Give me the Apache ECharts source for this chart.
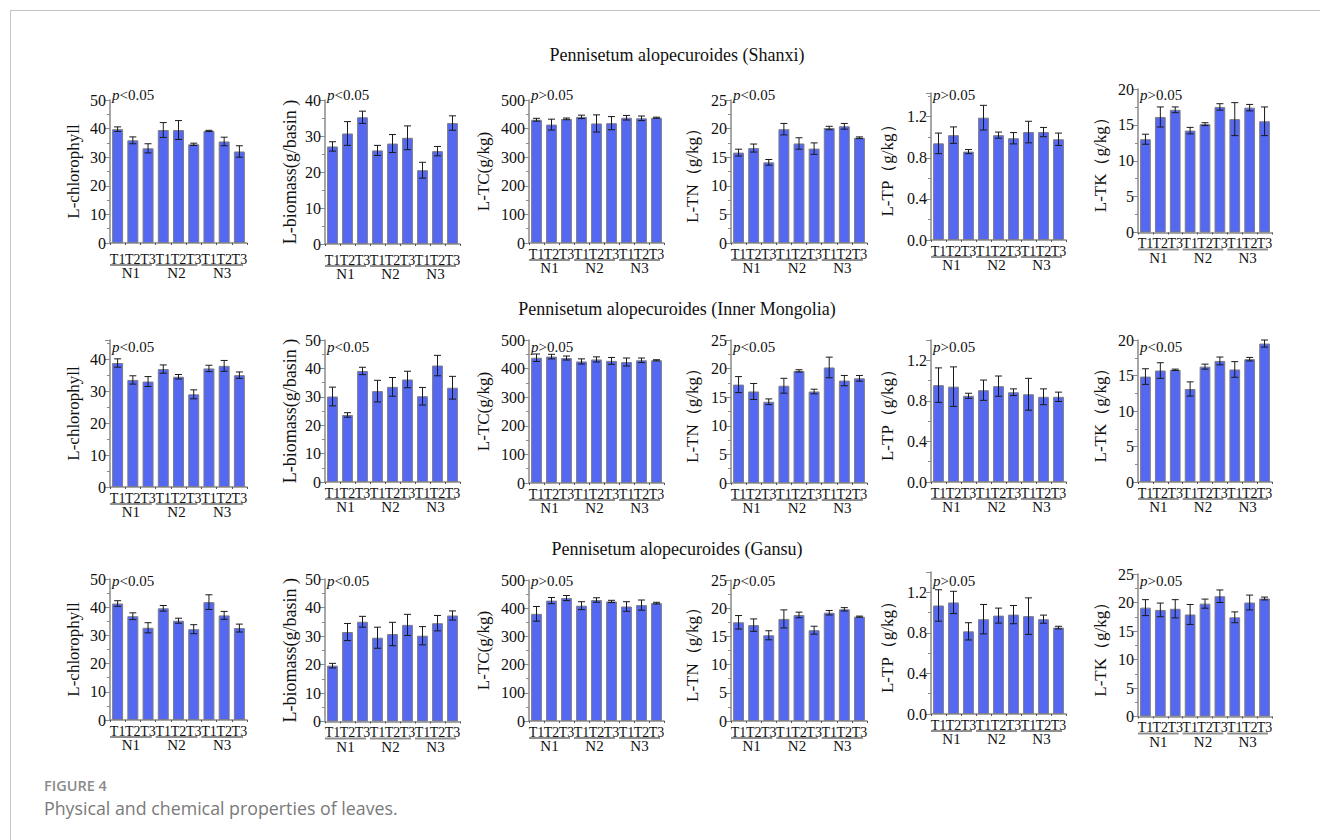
<!DOCTYPE html>
<html>
<head>
<meta charset="utf-8">
<script src="https://cdn.jsdelivr.net/npm/echarts@6/dist/echarts.min.js"></script>
<style>
  html, body { margin: 0; padding: 0; background: #ffffff; }
  #chart { width: 1320px; height: 840px; }
</style>
</head>
<body>
<div id="chart"></div>
<script>
// ---- categories ----
const treatments = ['T1', 'T2', 'T3'];
const nitrogen = ['N1', 'N2', 'N3'];
const siteTitles = [
  'Pennisetum alopecuroides (Shanxi)',
  'Pennisetum alopecuroides (Inner Mongolia)',
  'Pennisetum alopecuroides (Gansu)'
];
const metricNames = ['L-chlorophyll', 'L-biomass(g/basin )', 'L-TC(g/kg)', 'L-TN（g/kg）', 'L-TP（g/kg）', 'L-TK（g/kg）'];

// ---- significance notes, one per metric ----
const pShanxi = ['p<0.05', 'p<0.05', 'p>0.05', 'p<0.05', 'p>0.05', 'p>0.05'];
const pInner  = ['p<0.05', 'p<0.05', 'p>0.05', 'p<0.05', 'p>0.05', 'p<0.05'];
const pGansu  = ['p<0.05', 'p<0.05', 'p>0.05', 'p<0.05', 'p>0.05', 'p>0.05'];

// ---- Shanxi: means and errors, order N1T1 N1T2 N1T3 N2T1 ... N3T3 ----
const chlShanxi   = [39.8, 35.9, 33.1, 39.5, 39.5, 34.5, 39.2, 35.5, 32.0];
const chlShanxiE  = [0.8, 1.2, 1.6, 2.6, 3.3, 0.4, 0.2, 1.5, 2.0];
const bioShanxi   = [27.1, 30.7, 35.2, 26.0, 27.9, 29.5, 20.5, 25.8, 33.6];
const bioShanxiE  = [1.3, 3.3, 1.7, 1.4, 2.5, 3.3, 2.2, 1.3, 2.0];
const tcShanxi    = [431, 414, 434, 441, 418, 419, 438, 436, 438];
const tcShanxiE   = [5, 19, 3, 6, 30, 23, 8, 8, 2];
const tnShanxi    = [15.8, 16.6, 14.1, 19.9, 17.4, 16.5, 20.1, 20.4, 18.4];
const tnShanxiE   = [0.6, 0.7, 0.5, 1.0, 1.0, 1.0, 0.3, 0.5, 0.15];
const tpShanxi    = [0.94, 1.02, 0.86, 1.19, 1.02, 0.99, 1.05, 1.05, 0.98];
const tpShanxiE   = [0.10, 0.08, 0.02, 0.12, 0.03, 0.055, 0.105, 0.045, 0.06];
const tkShanxi    = [13.0, 16.1, 17.1, 14.2, 15.1, 17.5, 15.8, 17.4, 15.5];
const tkShanxiE   = [0.7, 1.4, 0.4, 0.45, 0.2, 0.45, 2.3, 0.45, 2.0];

// ---- Inner Mongolia ----
const chlInner    = [38.8, 33.5, 33.0, 36.9, 34.5, 29.0, 37.1, 37.9, 35.0];
const chlInnerE   = [1.3, 1.3, 1.55, 1.3, 0.7, 1.4, 1.0, 1.7, 1.0];
const bioInner    = [30.1, 23.6, 39.1, 32.0, 33.5, 36.1, 30.2, 41.0, 33.2];
const bioInnerE   = [3.3, 0.8, 1.3, 3.8, 3.3, 2.9, 3.1, 3.6, 4.0];
const tcInner     = [438, 442, 437, 425, 432, 427, 423, 429, 429];
const tcInnerE    = [13, 8, 7, 9, 9, 12, 14, 8, 2];
const tnInner     = [17.2, 16.0, 14.2, 17.0, 19.6, 16.0, 20.2, 17.9, 18.3];
const tnInnerE    = [1.4, 1.4, 0.5, 1.3, 0.2, 0.4, 1.8, 0.9, 0.5];
const tpInner     = [0.955, 0.94, 0.85, 0.905, 0.945, 0.885, 0.865, 0.84, 0.84];
const tpInnerE    = [0.17, 0.195, 0.025, 0.10, 0.10, 0.033, 0.157, 0.078, 0.046];
const tkInner     = [14.85, 15.7, 15.8, 13.1, 16.25, 17.05, 15.85, 17.3, 19.5];
const tkInnerE    = [1.1, 1.1, 0.1, 1.0, 0.35, 0.55, 1.1, 0.25, 0.5];

// ---- Gansu ----
const chlGansu    = [41.3, 36.8, 32.7, 39.6, 35.2, 32.2, 41.8, 37.1, 32.6];
const chlGansuE   = [1.0, 1.2, 1.8, 1.0, 0.9, 1.6, 2.6, 1.4, 1.4];
const bioGansu    = [19.6, 31.4, 35.0, 29.4, 30.7, 33.9, 30.1, 34.5, 37.2];
const bioGansuE   = [0.8, 3.0, 1.9, 3.7, 4.1, 3.7, 3.2, 2.7, 1.6];
const tcGansu     = [380, 427, 436, 409, 429, 424, 406, 411, 418];
const tcGansuE    = [26, 11, 9, 14, 8, 4, 17, 18, 3];
const tnGansu     = [17.5, 17.0, 15.2, 18.1, 18.8, 16.1, 19.2, 19.8, 18.5];
const tnGansuE    = [1.2, 1.1, 0.8, 1.6, 0.5, 0.7, 0.4, 0.3, 0.1];
const tpGansu     = [1.07, 1.10, 0.815, 0.935, 0.97, 0.98, 0.965, 0.935, 0.852];
const tpGansuE    = [0.155, 0.11, 0.085, 0.145, 0.074, 0.09, 0.18, 0.04, 0.013];
const tkGansu     = [19.1, 18.7, 18.9, 17.9, 19.8, 21.1, 17.4, 20.0, 20.7];
const tkGansuE    = [1.4, 1.2, 1.6, 1.75, 0.8, 1.1, 0.95, 1.3, 0.25];

// ---- assembled per row ----
const rowMeans = [
  [chlShanxi, bioShanxi, tcShanxi, tnShanxi, tpShanxi, tkShanxi],
  [chlInner, bioInner, tcInner, tnInner, tpInner, tkInner],
  [chlGansu, bioGansu, tcGansu, tnGansu, tpGansu, tkGansu]
];
const rowErrors = [
  [chlShanxiE, bioShanxiE, tcShanxiE, tnShanxiE, tpShanxiE, tkShanxiE],
  [chlInnerE, bioInnerE, tcInnerE, tnInnerE, tpInnerE, tkInnerE],
  [chlGansuE, bioGansuE, tcGansuE, tnGansuE, tpGansuE, tkGansuE]
];
const rowP = [pShanxi, pInner, pGansu];

// ---- axis ranges ----
const yMaxShanxi = [50, 40, 500, 25, 1.43, 20];
const yMaxInner  = [46, 50, 500, 25, 1.4, 20];
const yMaxGansu  = [50, 50, 500, 25, 1.4, 25];
const yMax = [yMaxShanxi, yMaxInner, yMaxGansu];
const yStep = [10, 10, 100, 5, 0.4, 5];

// ---- layout ----
const colLeft  = [110, 325, 529, 731, 931, 1138];
const colWidth = [137, 135, 135, 136, 135, 134];
const nameGap  = [28, 26, 37, 30, 35, 29];
const rowTop   = [[100, 100, 100, 100, 93, 89], [340, 340, 340, 340, 340, 340], [579, 579, 580, 580, 572, 574]];
const rowZero  = [[243, 244, 243, 243, 240, 232.5], [487, 482, 483, 483, 482, 482], [720, 721.5, 721, 721, 714, 716.5]];
const labelDrop = [[5, 5, 0, 0, 0, 0], [0, 0, 0, 0, 0, 0], [0, 0, 0, 0, 0, 0]];
const titleY   = [55, 309, 549];
const pLabelY  = [96, 348, 582];

const SERIF = '"Liberation Serif", "Times New Roman", serif';
const BAR = '#5468f2';
const INK = '#111111';
const AXIS = '#8a8a8a';

const catCodes = [];
nitrogen.forEach(n => treatments.forEach(t => catCodes.push(n + t)));
const groupSpans = nitrogen.map((n, i) => [i * 3, i * 3 + 2]);

function renderErrorBar(params, api) {
  const lo = api.coord([api.value(0), api.value(1)]);
  const hi = api.coord([api.value(0), api.value(2)]);
  const w = 3.5;
  const st = { stroke: '#1a1a1a', lineWidth: 1 };
  return {
    type: 'group',
    children: [
      { type: 'line', shape: { x1: lo[0], y1: lo[1], x2: hi[0], y2: hi[1] }, style: st },
      { type: 'line', shape: { x1: lo[0] - w, y1: lo[1], x2: lo[0] + w, y2: lo[1] }, style: st },
      { type: 'line', shape: { x1: hi[0] - w, y1: hi[1], x2: hi[0] + w, y2: hi[1] }, style: st }
    ]
  };
}

// group underline plus N label beneath the treatment labels
function makeGroupRenderer(drop) {
  return function (params, api) {
    const a = api.coord([api.value(0), 0]);
    const b = api.coord([api.value(1), 0]);
    const half = api.size([1, 0])[0] / 2;
    const x0 = a[0] - half;
    const x1 = b[0] + half - 4;
    const y = a[1] + 17 + drop;
    return {
      type: 'group',
      children: [
        { type: 'line', shape: { x1: x0, y1: y, x2: x1, y2: y }, style: { stroke: '#8f8f8f', lineWidth: 2 } },
        {
          type: 'text', x: (x0 + x1) / 2, y: y + 8,
          style: { text: nitrogen[params.dataIndex], fill: INK, font: '15px ' + SERIF, align: 'center', verticalAlign: 'middle' }
        }
      ]
    };
  };
}

const grid = [], xAxis = [], yAxis = [], series = [], graphic = [];

for (let r = 0; r < 3; r++) {
  for (let c = 0; c < 6; c++) {
    const k = r * 6 + c;
    const max = yMax[r][c];
    const step = yStep[c];
    const ratio = max / step;
    const maxIsTick = Math.abs(ratio - Math.round(ratio)) < 1e-6;
    const drop = labelDrop[r][c];
    grid.push({
      left: colLeft[c], top: rowTop[r][c], width: colWidth[c],
      height: rowZero[r][c] - rowTop[r][c], containLabel: false
    });
    xAxis.push({
      type: 'category', gridIndex: k, data: catCodes,
      axisLine: { lineStyle: { color: AXIS, width: 1.5 } },
      axisTick: { show: true, length: 2, lineStyle: { color: '#555' } },
      axisLabel: {
        interval: 0, margin: 4 + drop, color: INK, fontFamily: SERIF, fontSize: 14,
        formatter: v => v.slice(2)
      }
    });
    yAxis.push({
      type: 'value', gridIndex: k, min: 0, max: max, interval: step,
      name: metricNames[c], nameLocation: 'middle', nameRotate: 90, nameGap: nameGap[c],
      nameMoveOverlap: false,
      nameTextStyle: { color: INK, fontFamily: SERIF, fontSize: c === 1 ? 18 : 17 },
      axisLine: { show: true, lineStyle: { color: AXIS, width: 1.5 } },
      axisTick: { show: true, length: 5, lineStyle: { color: AXIS } },
      minorTick: { show: true, splitNumber: 2, length: 3, lineStyle: { color: AXIS } },
      splitLine: { show: false },
      axisLabel: {
        color: INK, fontFamily: SERIF, fontSize: 16, margin: 4,
        showMaxLabel: maxIsTick,
        formatter: v => (c === 4 ? v.toFixed(1) : String(Math.round(v)))
      }
    });
    const means = rowMeans[r][c];
    const errs = rowErrors[r][c];
    series.push({
      type: 'bar', xAxisIndex: k, yAxisIndex: k, data: means, barWidth: '72%',
      itemStyle: { color: BAR, borderColor: '#7d7d85', borderWidth: 1 },
      silent: true, animation: false
    });
    series.push({
      type: 'custom', xAxisIndex: k, yAxisIndex: k,
      data: means.map((m, i) => [i, m - errs[i], m + errs[i]]),
      encode: { x: 0, y: [1, 2] },
      renderItem: renderErrorBar, clip: false, silent: true, animation: false, z: 3
    });
    series.push({
      type: 'custom', xAxisIndex: k, yAxisIndex: k,
      data: groupSpans,
      encode: { x: [0, 1] },
      renderItem: makeGroupRenderer(drop), clip: false, silent: true, animation: false
    });
    // significance note at the top of each panel
    const note = rowP[r][c];
    graphic.push({
      type: 'text', left: colLeft[c] + 2, top: pLabelY[r] - 9,
      style: {
        text: '{i|' + note.charAt(0) + '}{n|' + note.slice(1) + '}',
        rich: {
          i: { fontFamily: SERIF, fontSize: 15, fontStyle: 'italic', fill: INK },
          n: { fontFamily: SERIF, fontSize: 15, fill: INK }
        }
      }
    });
  }
  graphic.push({
    type: 'text', x: 677, y: titleY[r],
    style: { text: siteTitles[r], fill: INK, font: '18px ' + SERIF, align: 'center', verticalAlign: 'middle' }
  });
}

// page frame and caption
graphic.push(
  { type: 'line', shape: { x1: 10, y1: 10.5, x2: 1320, y2: 10.5 }, style: { stroke: '#c4c4c4', lineWidth: 1 } },
  { type: 'line', shape: { x1: 10.5, y1: 10, x2: 10.5, y2: 840 }, style: { stroke: '#c4c4c4', lineWidth: 1 } },
  {
    type: 'text', x: 44, y: 785,
    style: { text: 'FIGURE 4', fill: '#8a8a8a', font: '600 14.5px "Open Sans", sans-serif', verticalAlign: 'middle' }
  },
  {
    type: 'text', x: 44, y: 808,
    style: { text: 'Physical and chemical properties of leaves.', fill: '#7a7a7a', font: '17.8px "Open Sans", sans-serif', verticalAlign: 'middle' }
  }
);

const chart = echarts.init(document.getElementById('chart'), null, { renderer: 'svg' });
chart.setOption({
  animation: false,
  backgroundColor: '#ffffff',
  grid, xAxis, yAxis, series, graphic
});
</script>
</body>
</html>
